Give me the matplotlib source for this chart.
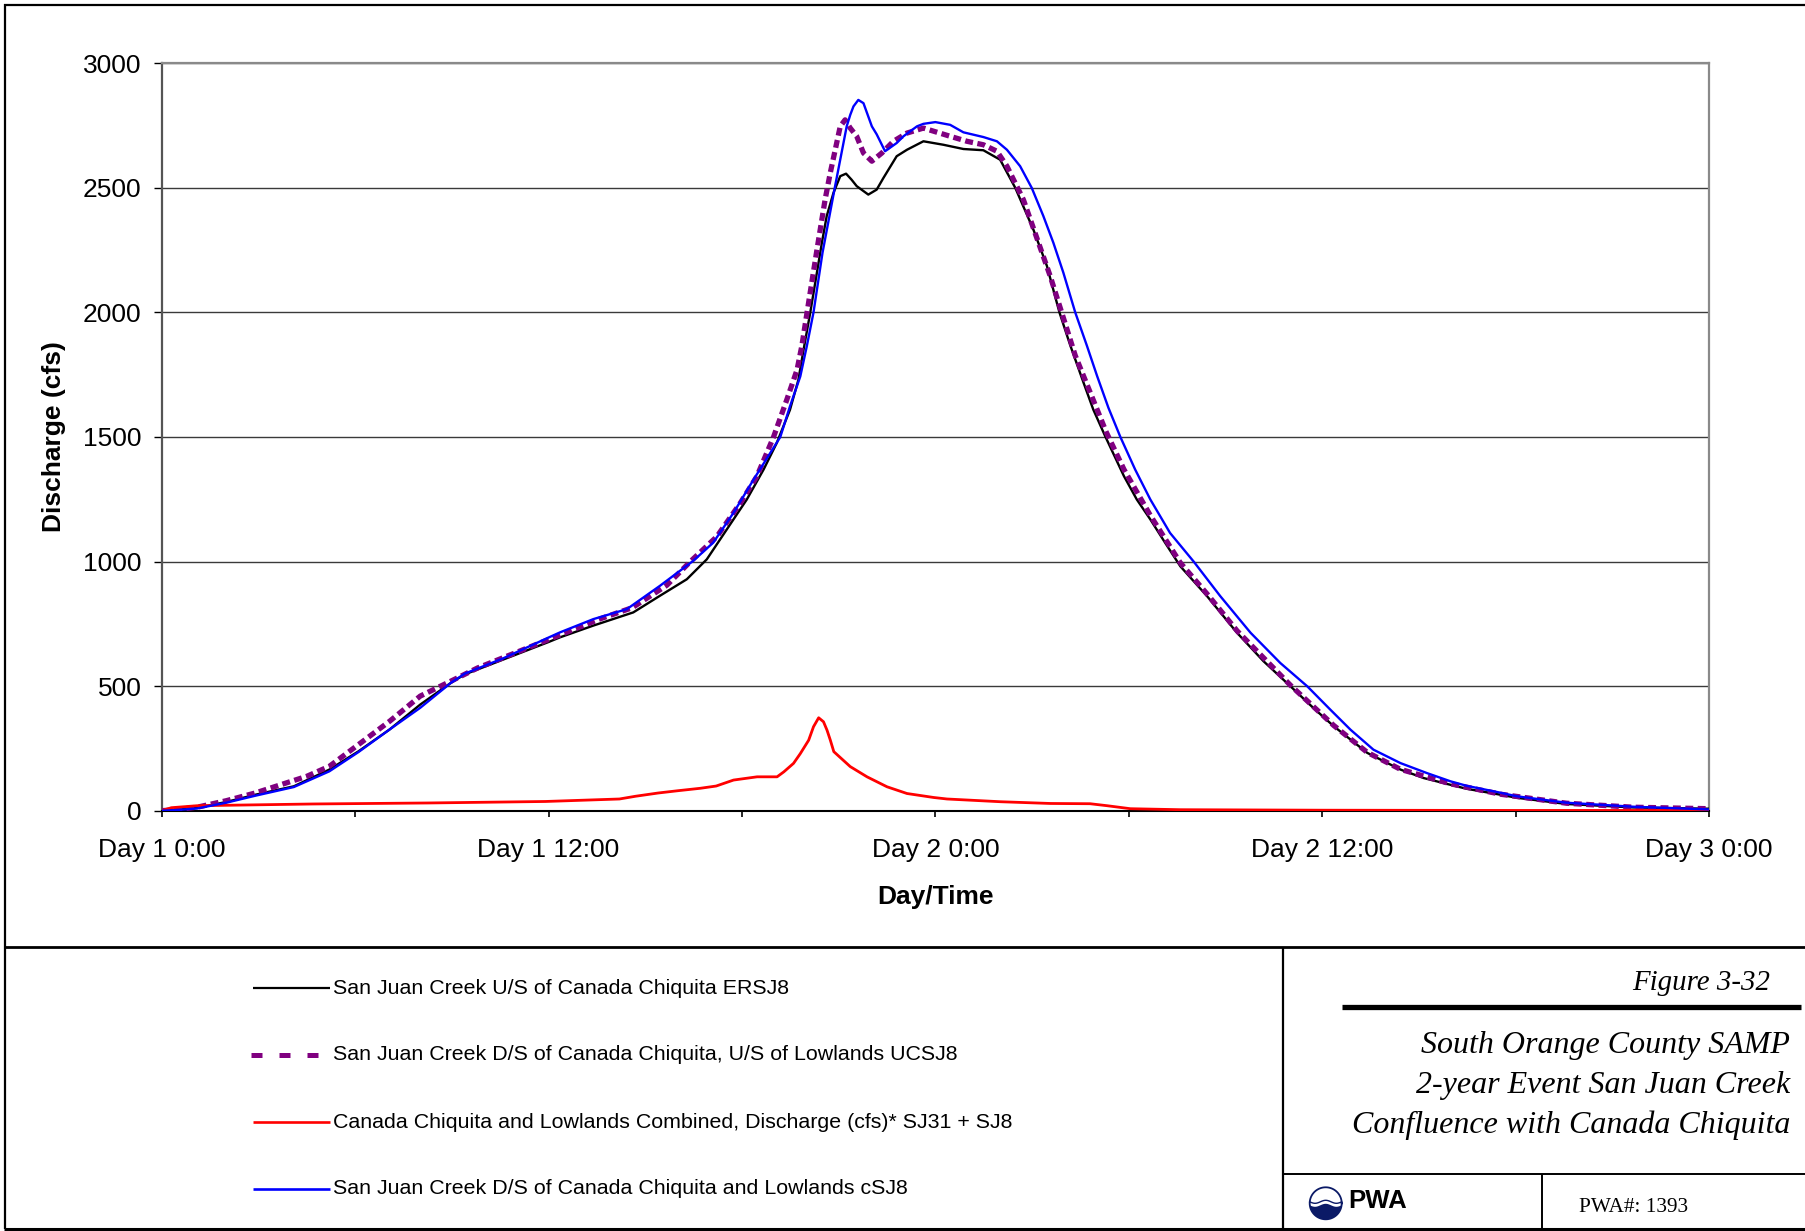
import matplotlib
matplotlib.use("Agg")
import matplotlib.pyplot as plt
from matplotlib.lines import Line2D
from matplotlib.patches import Polygon
import numpy as np

plt.rcParams['font.family'] = ['Liberation Sans', 'DejaVu Sans']

# ---------------- data (hours from Day 1 0:00, discharge in cfs) ----------------
hours_ersj8 = [0, 0.5, 1.1, 2.0, 2.9, 4.1, 5.2, 6.1, 7.07, 8.02, 8.97, 9.4, 10.6, 12.0, 12.36,
               13.39, 14.63, 15.46, 16.29, 16.91, 17.53, 18.15, 18.67, 19.08, 19.49, 19.75, 19.91,
               20.12, 20.48, 20.63, 20.84, 21.05, 21.23, 21.4, 21.56, 21.92, 22.18, 22.39, 22.8,
               23.12, 23.63, 24.25, 24.87, 25.49, 26.01, 26.48, 27.04, 27.46, 27.85, 28.18, 28.6,
               28.9, 29.28, 29.85, 30.25, 30.67, 31.13, 31.6, 32.43, 33.36, 34.18, 35.02, 35.73,
               36.36, 37.4, 38.43, 39.15, 39.98, 40.48, 41.54, 42.03, 43.58, 45.65, 48.0]
q_ersj8 = [0, 4, 11, 35, 64, 98, 165, 238, 326, 426, 513, 547, 607, 677, 696,
           743, 796, 863, 929, 1009, 1129, 1249, 1369, 1476, 1609, 1729, 1849,
           2000, 2280, 2387, 2480, 2547, 2557, 2533, 2507, 2473, 2493, 2540, 2627,
           2653, 2687, 2673, 2656, 2651, 2613, 2500, 2333, 2187, 2000, 1870, 1717,
           1610, 1500, 1343, 1249, 1169, 1075, 981, 861, 714, 600, 499, 412,
           339, 232, 165, 131, 104, 88, 64, 52, 27, 13, 8]

hours_ucsj8 = [0, 0.5, 1.1, 2.0, 2.9, 4.5, 5.2, 6.1, 7.07, 8.02, 8.97, 9.8, 12.0, 13.6, 14.6,
               15.67, 16.4, 17.22, 17.95, 18.46, 18.98, 19.39, 19.71, 19.86, 20.02, 20.33, 20.58,
               20.74, 21.05, 21.2, 21.36, 21.56, 21.77, 22.03, 22.34, 22.7, 23.12, 23.63, 24.46,
               24.98, 25.49, 25.91, 26.22, 26.73, 27.56, 28.34, 29.3, 29.85, 30.67, 31.6, 32.43,
               33.36, 35.02, 36.36, 37.4, 38.43, 39.98, 41.54, 43.58, 45.65, 48.0]
q_ucsj8 = [0, 5, 14, 40, 71, 138, 178, 265, 359, 460, 520, 573, 687, 770, 815,
           905, 1000, 1100, 1235, 1341, 1500, 1649, 1770, 1867, 2000, 2254, 2453,
           2560, 2747, 2773, 2740, 2707, 2640, 2607, 2640, 2687, 2720, 2740, 2707,
           2687, 2673, 2647, 2587, 2453, 2147, 1827, 1520, 1370, 1185, 995, 870,
           722, 503, 342, 234, 166, 108, 66, 30, 14, 8]

hours_sj31 = [0, 0.3, 1.1, 4.7, 8.26, 11.9, 14.2, 14.7, 15.4, 16.0, 16.71, 17.2, 17.74, 18.47,
              19.09, 19.3, 19.6, 19.81, 20.07, 20.22, 20.38, 20.53, 20.64, 20.74, 20.85, 21.36,
              21.88, 22.5, 23.12, 23.95, 24.36, 26.02, 27.57, 28.8, 29.33, 30.05, 31.6, 36.0,
              42.0, 48.0]
q_sj31 = [0, 12, 20, 27, 31, 37, 47, 58, 71, 80, 90, 99, 123, 136,
          136, 156, 190, 229, 283, 337, 373, 357, 323, 284, 237, 177,
          136, 96, 69, 53, 47, 36, 29, 28, 20, 8, 4, 2,
          1, 1]

hours_csj8 = [0, 0.5, 1.1, 2.0, 2.9, 4.1, 5.2, 6.1, 7.07, 8.02, 8.97, 9.4, 10.6, 12.0, 12.36,
              13.39, 14.43, 15.46, 16.49, 17.11, 17.74, 18.36, 19.19, 19.49, 19.81, 20.01, 20.22,
              20.5, 20.89, 21.25, 21.36, 21.46, 21.61, 21.77, 22.03, 22.18, 22.44, 22.8, 23.01,
              23.43, 23.63, 24.0, 24.46, 24.87, 25.49, 25.91, 26.22, 26.63, 26.99, 27.35, 27.66,
              27.97, 28.34, 28.7, 29.02, 29.37, 29.74, 30.2, 30.67, 31.28, 32.02, 32.84, 33.78,
              34.7, 35.54, 36.25, 36.88, 37.59, 38.43, 39.25, 39.98, 40.48, 41.54, 42.03, 43.58,
              45.65, 48.0]
q_csj8 = [0, 3, 9, 32, 60, 95, 158, 235, 326, 413, 513, 550, 612, 695, 716,
          769, 809, 903, 1003, 1076, 1196, 1329, 1500, 1623, 1743, 1863, 2000,
          2240, 2507, 2747, 2793, 2827, 2853, 2840, 2747, 2715, 2647, 2680, 2707,
          2747, 2757, 2764, 2753, 2723, 2704, 2687, 2653, 2587, 2500, 2387, 2280,
          2160, 2000, 1867, 1744, 1617, 1500, 1369, 1249, 1115, 999, 861, 714,
          593, 499, 406, 325, 245, 191, 151, 118, 100, 72, 58, 32,
          16, 5]

x_ticks = [0, 12, 24, 36, 48]
x_ticklabels = ["Day 1 0:00", "Day 1 12:00", "Day 2 0:00", "Day 2 12:00", "Day 3 0:00"]
x_minor = [6, 18, 30, 42]
y_ticks = [0, 500, 1000, 1500, 2000, 2500, 3000]

legend_labels = ["San Juan Creek U/S of Canada Chiquita ERSJ8",
                 "San Juan Creek D/S of Canada Chiquita, U/S of Lowlands UCSJ8",
                 "Canada Chiquita and Lowlands Combined, Discharge (cfs)* SJ31 + SJ8",
                 "San Juan Creek D/S of Canada Chiquita and Lowlands cSJ8"]
title_lines = ["South Orange County SAMP", "2-year Event San Juan Creek",
               "Confluence with Canada Chiquita"]

# ---------------- figure ----------------
W, H = 1805, 1231
fig = plt.figure(figsize=(W / 100, H / 100), dpi=100)


def fx(x):
    return np.asarray(x) / W


def fy(y):
    return 1 - np.asarray(y) / H


ax_l, ax_r, ax_t, ax_b = 161.7, 1709.0, 63.3, 810.7
ax = fig.add_axes([fx(ax_l), fy(ax_b), fx(ax_r - ax_l), (ax_b - ax_t) / H])

purple = '#800080'
common = dict(solid_joinstyle='round', solid_capstyle='round')
ax.plot(hours_ersj8, q_ersj8, color='black', lw=1.7, zorder=3, **common)
ax.plot(hours_ucsj8, q_ucsj8, color=purple, lw=3.8, dashes=(1.5, 0.85),
        dash_capstyle='butt', dash_joinstyle='round', zorder=4)
ax.plot(hours_sj31, q_sj31, color='#ff0000', lw=2.0, zorder=5, **common)
ax.plot(hours_csj8, q_csj8, color='#0000ff', lw=1.7, zorder=6, **common)

ax.set_xlim(0, 48)
ax.set_ylim(0, 3000)
ax.set_xticks(x_ticks)
ax.set_xticklabels(x_ticklabels)
ax.set_xticks(x_minor, minor=True)
ax.set_yticks(y_ticks)
ax.tick_params(axis='x', which='both', direction='out', length=4.5, width=1.2,
               pad=15.5, labelsize=19, colors='black')
ax.tick_params(axis='y', which='both', direction='out', length=6, width=1.0,
               pad=8.5, labelsize=19, colors='black')
ax.grid(axis='y', color='#3a3a3a', lw=1.0, zorder=1)
ax.set_axisbelow(True)
for side in ['top', 'right']:
    ax.spines[side].set_color('#8a8a8a')
    ax.spines[side].set_linewidth(1.6)
ax.spines['left'].set_color('#555555')
ax.spines['left'].set_linewidth(1.6)
ax.spines['bottom'].set_color('black')
ax.spines['bottom'].set_linewidth(1.5)

ax.set_ylabel("Discharge (cfs)", fontsize=19, fontweight='bold')
ax.yaxis.set_label_coords((54 - ax_l) / (ax_r - ax_l), 0.5)
ax.yaxis.label.set_verticalalignment('center')
ax.set_xlabel("Day/Time", fontsize=19, fontweight='bold')
ax.xaxis.set_label_coords(0.5, (ax_b - 897.0) / (ax_b - ax_t))
ax.xaxis.label.set_verticalalignment('center')


# ---------------- frame lines ----------------
def hline(y, x0, x1, lw=2.0, color='black'):
    fig.add_artist(Line2D([fx(x0), fx(x1)], [fy(y), fy(y)], color=color, lw=lw,
                          transform=fig.transFigure, solid_capstyle='butt'))


def vline(x, y0, y1, lw=2.0, color='black'):
    fig.add_artist(Line2D([fx(x), fx(x)], [fy(y0), fy(y1)], color=color, lw=lw,
                          transform=fig.transFigure, solid_capstyle='butt'))


hline(4.5, 3.5, W + 5, lw=1.6)
vline(4.5, 3.5, 1228.5, lw=1.6)
hline(1228.5, 3.5, W + 5, lw=2.2)
hline(947, 3.5, W + 5, lw=2.0)
vline(1283, 947, 1228.5, lw=1.6)
hline(1173.5, 1283, W + 5, lw=1.4)
vline(1542, 1173.5, 1228.5, lw=1.4)
hline(1006.7, 1341.7, 1800.6, lw=3.8)

# ---------------- legend ----------------
leg_y = [988.0, 1055.0, 1122.0, 1188.5]
leg_styles = [dict(color='black', lw=1.6),
              dict(color=purple, lw=3.6, dashes=(2.2, 3.4), dash_capstyle='butt'),
              dict(color='#ff0000', lw=1.9),
              dict(color='#0000ff', lw=1.9)]
leg_x0 = [252.5, 251.0, 252.5, 252.5]
for y, x0, lab, st in zip(leg_y, leg_x0, legend_labels, leg_styles):
    fig.add_artist(Line2D([fx(x0), fx(329.5)], [fy(y), fy(y)],
                          transform=fig.transFigure, solid_capstyle='butt', **st))
    fig.text(fx(333), fy(y), lab, fontsize=15.4, ha='left', va='center', color='black')

# ---------------- title block ----------------
serif = ['Liberation Serif', 'DejaVu Serif']
fig.text(fx(1770), fy(983), "Figure 3-32", family=serif, style='italic',
         fontsize=20.8, ha='right', va='center')
for y, line in zip([1045.0, 1085.3, 1125.6], title_lines):
    fig.text(fx(1790), fy(y), line, family=serif, style='italic',
             fontsize=23, ha='right', va='center')

fig.text(fx(1579), fy(1208), "PWA#: 1393", family=serif, fontsize=15.3,
         ha='left', va='center')
fig.text(fx(1348), fy(1201.5), "PWA", fontsize=18.5, fontweight='bold',
         ha='left', va='center')

# PWA logo
navy = '#0b1a66'
cx, cy, r = 1325.7, 1203.3, 16.0
t = np.linspace(0, 1, 60)
wave_x = cx - r + 2 * r * t
wave_y = cy + 1.5 * np.sin(2 * np.pi * t * 1.5)
bx = np.concatenate([wave_x, cx + r * np.cos(np.linspace(0, np.pi, 60))])
by = np.concatenate([wave_y + 2.0, cy + r * np.sin(np.linspace(0, np.pi, 60))])
fig.add_artist(Polygon(np.column_stack([fx(bx), fy(by)]), closed=True,
                       transform=fig.transFigure, facecolor=navy, edgecolor='none'))
fig.add_artist(Line2D(fx(wave_x), fy(wave_y - 1.5), transform=fig.transFigure,
                      color=navy, lw=1.0))
circ_t = np.linspace(0, 2 * np.pi, 120)
fig.add_artist(Line2D(fx(cx + r * np.cos(circ_t)), fy(cy + r * np.sin(circ_t)),
                      transform=fig.transFigure, color=navy, lw=1.3))

fig.savefig("out.png", dpi=100)
